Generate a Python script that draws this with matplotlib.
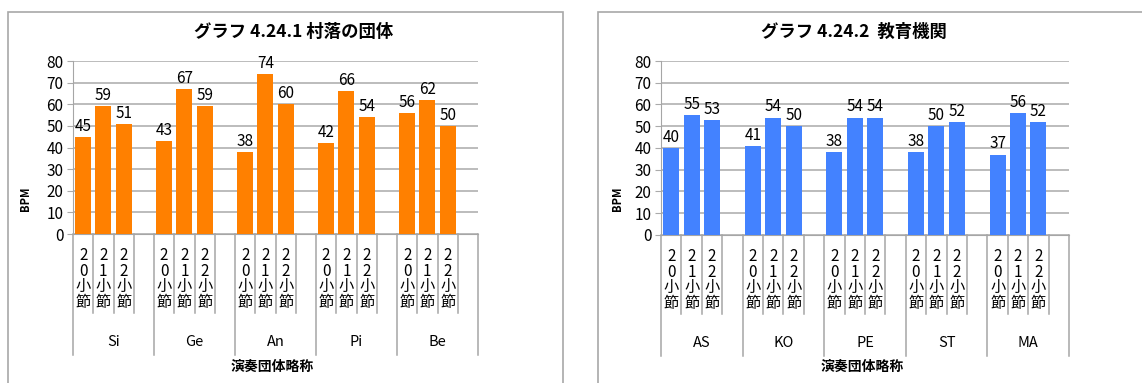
import matplotlib
import matplotlib.pyplot as plt
from matplotlib.patches import Rectangle
from matplotlib.lines import Line2D

matplotlib.use("Agg")
plt.rcParams['font.family'] = ['Noto Sans CJK JP', 'DejaVu Sans']

W, H = 1142, 383

sub_labels = ["20小節", "21小節", "22小節"]

groups_left = ["Si", "Ge", "An", "Pi", "Be"]
values_left = [
    [45, 59, 51],
    [43, 67, 59],
    [38, 74, 60],
    [42, 66, 54],
    [56, 62, 50],
]
title_left = "グラフ 4.24.1 村落の団体"

groups_right = ["AS", "KO", "PE", "ST", "MA"]
values_right = [
    [40, 55, 53],
    [41, 54, 50],
    [38, 54, 54],
    [38, 50, 52],
    [37, 56, 52],
]
title_right = "グラフ 4.24.2  教育機関"

xlabel = "演奏団体略称"
ylabel = "BPM"

grid_col = "#aaaaaa"
line_col = "#a6a6a6"

fig = plt.figure(figsize=(W / 100, H / 100), dpi=100)


def px_axes(x0, x1, y0, y1):
    # pixel box (top-left origin) -> figure fraction axes
    return fig.add_axes([x0 / W, 1 - y1 / H, (x1 - x0) / W, (y1 - y0) / H])


def frame(x0, y0, x1):
    fig.patches.append(Rectangle((x0 / W, -0.1), (x1 - x0) / W, 0.1 + 1 - y0 / H,
                                 transform=fig.transFigure, fill=False,
                                 edgecolor="#a8a8a8", lw=1.2))


def draw_chart(ax, groups, values, color, title, title_x, xlabel_x, ylabel_x, h_px):
    ax.set_xlim(0, 20)
    ax.set_ylim(0, 80)
    ax.set_yticks(range(0, 81, 10))
    ax.set_xticks([])
    ax.yaxis.grid(True, color=grid_col, lw=1.1)
    ax.set_axisbelow(True)
    for s in ["top", "right"]:
        ax.spines[s].set_visible(False)
    ax.spines["left"].set_color(line_col)
    ax.spines["bottom"].set_color(line_col)
    ax.tick_params(axis="y", length=4, color=grid_col, labelsize=11, pad=3)

    for g, (grp, vals) in enumerate(zip(groups, values)):
        for k, v in enumerate(vals):
            xc = 4 * g + k + 0.5
            ax.bar(xc, v, width=0.78, color=color, zorder=3)
            ax.annotate(str(v), (xc, v), xytext=(0, 1.5), textcoords="offset points",
                        ha="center", va="bottom", fontsize=11, annotation_clip=False)
            ax.text(xc, -45 / h_px, "\n".join(sub_labels[k]), transform=ax.get_xaxis_transform(),
                    ha="center", va="center", fontsize=11, linespacing=0.88)
        ax.text(4 * g + 2, -108 / h_px, grp, transform=ax.get_xaxis_transform(),
                ha="center", va="center", fontsize=10.5)

    # category separators: short between bars, long at group boundaries
    for s in range(21):
        low = -121 / h_px if s % 4 == 0 else -79 / h_px
        ax.add_line(Line2D([s, s], [0, low], transform=ax.get_xaxis_transform(),
                           color=line_col, lw=1.1, clip_on=False))

    fig.text(title_x / W, 1 - 32 / H, title, ha="center", va="center",
             fontsize=12.5, fontweight="bold")
    fig.text(xlabel_x / W, 1 - 367 / H, xlabel, ha="center", va="center",
             fontsize=10, fontweight="bold")
    fig.text(ylabel_x / W, 1 - 199 / H, ylabel, ha="center", va="center",
             fontsize=8, fontweight="bold", rotation=90)


frame(8, 12, 563)
frame(598, 12, 1160)

ax1 = px_axes(73, 478, 61, 234)
draw_chart(ax1, groups_left, values_left, "#ff8000", title_left, 294, 272, 26, 173)

ax2 = px_axes(661, 1069, 61, 235)
draw_chart(ax2, groups_right, values_right, "#4382ff", title_right, 854, 862, 617, 174)

fig.savefig("out.png", dpi=100)
